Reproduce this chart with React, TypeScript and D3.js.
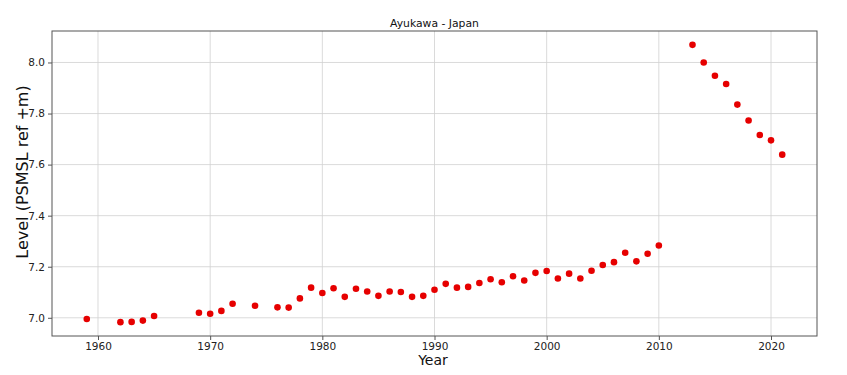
import React, { useRef, useEffect } from 'react';
import * as d3 from 'd3';

const years = [
  1959, 1962, 1963, 1964, 1965, 1969, 1970, 1971, 1972, 1974, 1976, 1977,
  1978, 1979, 1980, 1981, 1982, 1983, 1984, 1985, 1986, 1987, 1988, 1989,
  1990, 1991, 1992, 1993, 1994, 1995, 1996, 1997, 1998, 1999, 2000, 2001,
  2002, 2003, 2004, 2005, 2006, 2007, 2008, 2009, 2010, 2013, 2014, 2015,
  2016, 2017, 2018, 2019, 2020, 2021,
];

const levels = [
  6.995, 6.983, 6.984, 6.989, 7.007, 7.020, 7.016, 7.027, 7.055, 7.047, 7.041, 7.040,
  7.076, 7.118, 7.097, 7.116, 7.082, 7.114, 7.103, 7.086, 7.103, 7.101, 7.082, 7.086,
  7.110, 7.133, 7.118, 7.121, 7.136, 7.151, 7.139, 7.163, 7.146, 7.176, 7.183, 7.154,
  7.173, 7.154, 7.184, 7.207, 7.218, 7.255, 7.221, 7.251, 7.283, 8.069, 8.000, 7.948,
  7.916, 7.835, 7.773, 7.716, 7.695, 7.639,
];

const xTicks = [1960, 1970, 1980, 1990, 2000, 2010, 2020];
const yTicks = [7.0, 7.2, 7.4, 7.6, 7.8, 8.0];

const title = 'Ayukawa - Japan';
const xLabel = 'Year';
const yLabel = 'Level (PSMSL ref +m)';

const App = () => {
  const ref = useRef<SVGSVGElement>(null);
  const width = 847;
  const height = 375;

  useEffect(() => {
    const margin = { top: 31, right: 30, bottom: 39, left: 52 };
    const svg = d3.select(ref.current);
    svg.selectAll('*').remove();

    const font = 'DejaVu Sans, sans-serif';
    const x0 = d3.min(years)!;
    const x1 = d3.max(years)!;
    const y0 = d3.min(levels)!;
    const y1 = d3.max(levels)!;
    const xPad = (x1 - x0) * 0.05;
    const yPad = (y1 - y0) * 0.05;

    const x = d3.scaleLinear()
      .domain([x0 - xPad, x1 + xPad])
      .range([margin.left, width - margin.right]);
    const y = d3.scaleLinear()
      .domain([y0 - yPad, y1 + yPad])
      .range([height - margin.bottom, margin.top]);

    svg.append('rect')
      .attr('width', width)
      .attr('height', height)
      .attr('fill', '#fff');

    // grid
    const grid = svg.append('g');
    grid.selectAll('line.gx')
      .data(xTicks)
      .join('line')
      .attr('x1', (d) => x(d))
      .attr('x2', (d) => x(d))
      .attr('y1', margin.top)
      .attr('y2', height - margin.bottom)
      .attr('stroke', '#d0d0d0')
      .attr('stroke-width', 0.8);
    grid.selectAll('line.gy')
      .data(yTicks)
      .join('line')
      .attr('x1', margin.left)
      .attr('x2', width - margin.right)
      .attr('y1', (d) => y(d))
      .attr('y2', (d) => y(d))
      .attr('stroke', '#d0d0d0')
      .attr('stroke-width', 0.8);

    // axes
    const xAxis = svg.append('g')
      .attr('transform', `translate(0,${height - margin.bottom})`)
      .call(d3.axisBottom(x).tickValues(xTicks).tickFormat(d3.format('d')).tickSize(4).tickPadding(3));
    const yAxis = svg.append('g')
      .attr('transform', `translate(${margin.left},0)`)
      .call(d3.axisLeft(y).tickValues(yTicks).tickFormat(d3.format('.1f')).tickSize(4).tickPadding(3));

    [xAxis, yAxis].forEach((g) => {
      g.select('.domain').remove();
      g.selectAll('line').attr('stroke', '#555');
      g.selectAll('text')
        .attr('font-family', font)
        .attr('font-size', 10.5)
        .attr('fill', '#222');
    });

    // frame
    svg.append('rect')
      .attr('x', margin.left)
      .attr('y', margin.top)
      .attr('width', width - margin.left - margin.right)
      .attr('height', height - margin.top - margin.bottom)
      .attr('fill', 'none')
      .attr('stroke', '#555')
      .attr('stroke-width', 1);

    // points
    svg.append('g')
      .selectAll('circle')
      .data(years.map((yr, i) => ({ yr, v: levels[i] })))
      .join('circle')
      .attr('cx', (d) => x(d.yr))
      .attr('cy', (d) => y(d.v))
      .attr('r', 3.3)
      .attr('fill', '#e60000');

    svg.append('text')
      .attr('x', (margin.left + width - margin.right) / 2)
      .attr('y', 27)
      .attr('text-anchor', 'middle')
      .attr('font-family', font)
      .attr('font-size', 10.8)
      .attr('fill', '#111')
      .text(title);

    svg.append('text')
      .attr('x', 433)
      .attr('y', 365)
      .attr('text-anchor', 'middle')
      .attr('font-family', font)
      .attr('font-size', 14)
      .attr('fill', '#111')
      .text(xLabel);

    svg.append('text')
      .attr('transform', 'translate(28,172) rotate(-90)')
      .attr('text-anchor', 'middle')
      .attr('font-family', font)
      .attr('font-size', 16)
      .attr('fill', '#111')
      .text(yLabel);

    return () => {
      d3.select(ref.current).selectAll('*').remove();
    };
  }, []);

  return (
    <svg
      ref={ref}
      width={width}
      height={height}
      style={{ position: 'absolute', left: 0, top: 0, display: 'block' }}
    ></svg>
  );
};

export default App;
